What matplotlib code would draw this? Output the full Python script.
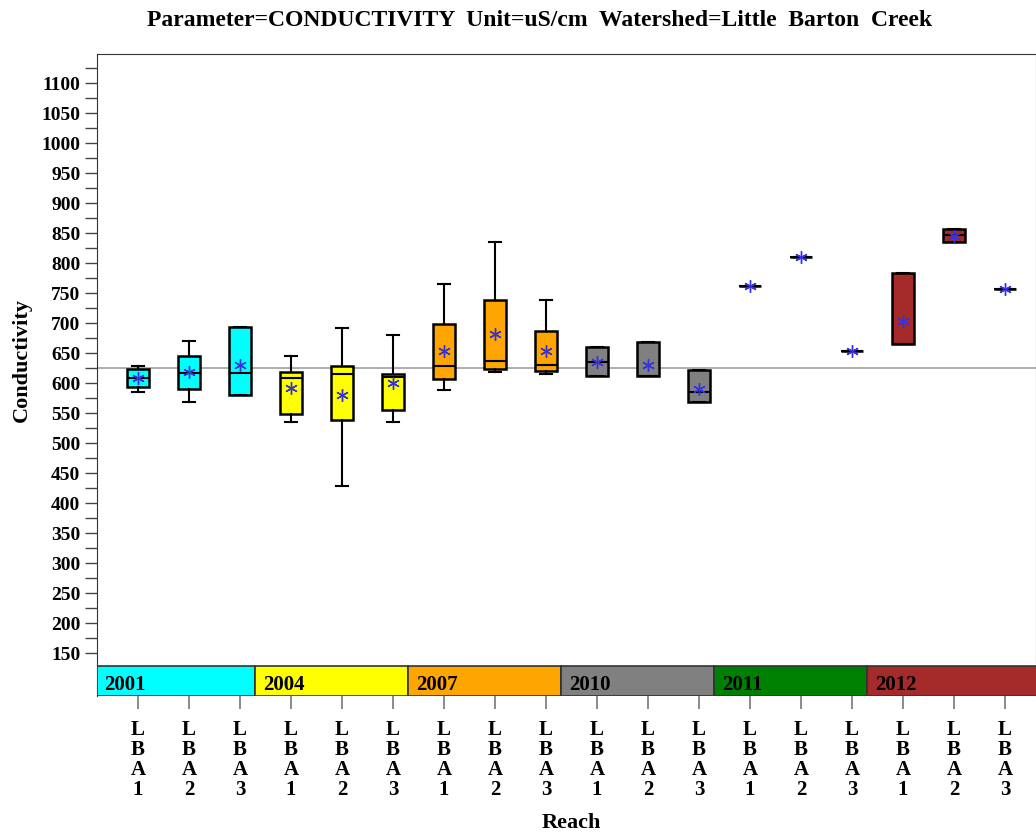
import matplotlib
matplotlib.use('Agg')
import matplotlib.pyplot as plt
import matplotlib.transforms as mtransforms
from matplotlib.patches import Rectangle

plt.rcParams['font.family'] = ['Liberation Serif', 'DejaVu Serif']
plt.rcParams['font.weight'] = 'bold'

# data
years = ['2001', '2004', '2007', '2010', '2011', '2012']
year_colors = ['#00FFFF', '#FFFF00', '#FFA500', '#808080', '#008000', '#A52A2A']
reaches = ['LBA1', 'LBA2', 'LBA3']

whislo = [586, 569, 580, 535, 428, 535, 589, 619, 615, 612, 612, 568, 762, 810, 654, 666, 835, 757]
q1     = [593, 590, 580, 549, 538, 555, 607, 624, 620, 612, 612, 568, 762, 810, 654, 666, 835, 757]
med    = [608, 617, 617, 609, 615, 611, 629, 637, 631, 635, 612, 585, 762, 810, 654, 666, 847, 757]
q3     = [623, 646, 694, 618, 629, 615, 699, 739, 687, 660, 668, 622, 762, 810, 654, 783, 857, 757]
whishi = [629, 671, 694, 645, 692, 680, 766, 835, 738, 660, 668, 622, 762, 810, 654, 783, 857, 757]
means  = [608, 618, 630, 592, 580, 600, 654, 682, 654, 636, 631, 591, 762, 810, 654, 704, 846, 757]
ref_value = 625

n = len(med)
positions = list(range(1, n + 1))

stats = []
for i in range(n):
    stats.append(dict(whislo=whislo[i], q1=q1[i], med=med[i], q3=q3[i],
                      whishi=whishi[i], mean=means[i], fliers=[]))

fig = plt.figure(figsize=(10.36, 8.35), dpi=100)
ax = fig.add_axes([0.0936, 0.1665, 0.9064, 0.7689])

ax.axhline(ref_value, color='#A0A0A0', lw=1.2, zorder=1)

bp = ax.bxp(stats, positions=positions, widths=0.43, patch_artist=True,
            showmeans=True, showfliers=False,
            boxprops=dict(edgecolor='black', linewidth=1.8),
            medianprops=dict(color='black', linewidth=1.5),
            whiskerprops=dict(color='black', linewidth=1.5),
            capprops=dict(color='black', linewidth=1.5),
            meanprops=dict(marker=(6, 2, 0), markeredgecolor='#3333DD',
                           markerfacecolor='#3333DD', markersize=9,
                           markeredgewidth=1.0),
            capwidths=0.22, zorder=3)
for i, box in enumerate(bp['boxes']):
    box.set_facecolor(year_colors[i // 3])

xmin, xmax = 0.197, 18.61
ax.set_xlim(xmin, xmax)
ax.set_ylim(78.8, 1148.8)

# year band at the bottom of the axes
trans = mtransforms.blended_transform_factory(ax.transData, ax.transAxes)
band_h = 30 / 642
edges = [xmin] + [3 * (g + 1) + 0.3 for g in range(len(years) - 1)] + [xmax + 1]
for g, yr in enumerate(years):
    ax.add_patch(Rectangle((edges[g], 0), edges[g + 1] - edges[g], band_h,
                           transform=trans, facecolor=year_colors[g],
                           edgecolor='#333333', lw=1.2, zorder=4, clip_on=True))
    ax.text(edges[g] + 0.15, band_h * 0.36, yr, transform=trans, fontsize=15,
            fontweight='bold', va='center', ha='left', zorder=5)

ax.set_yticks(range(150, 1101, 50))
ax.set_yticks(range(175, 1126, 50), minor=True)
ax.tick_params(axis='y', which='both', length=9, width=1, color='#444444',
               labelsize=14, pad=3)
ax.set_xticks(positions)
ax.set_xticklabels(['\n'.join(list(r)) for r in reaches * len(years)],
                   fontsize=15, linespacing=1.0)
ax.tick_params(axis='x', length=9, width=1.2, color='#777777', pad=8)

for s in ['top', 'left', 'right']:
    ax.spines[s].set_color('#333333')
ax.spines['bottom'].set_visible(False)

ax.set_ylabel('Conductivity', fontsize=16, fontweight='bold')
ax.yaxis.set_label_coords(-0.069, (1 + band_h) / 2)
fig.text(0.551, 1 - 823 / 835, 'Reach', fontsize=16, fontweight='bold',
         ha='center', va='center')
fig.suptitle('Parameter=CONDUCTIVITY  Unit=uS/cm  Watershed=Little  Barton  Creek',
             x=0.521, y=0.988, fontsize=17, fontweight='bold')

fig.savefig('out.png', dpi=100)
